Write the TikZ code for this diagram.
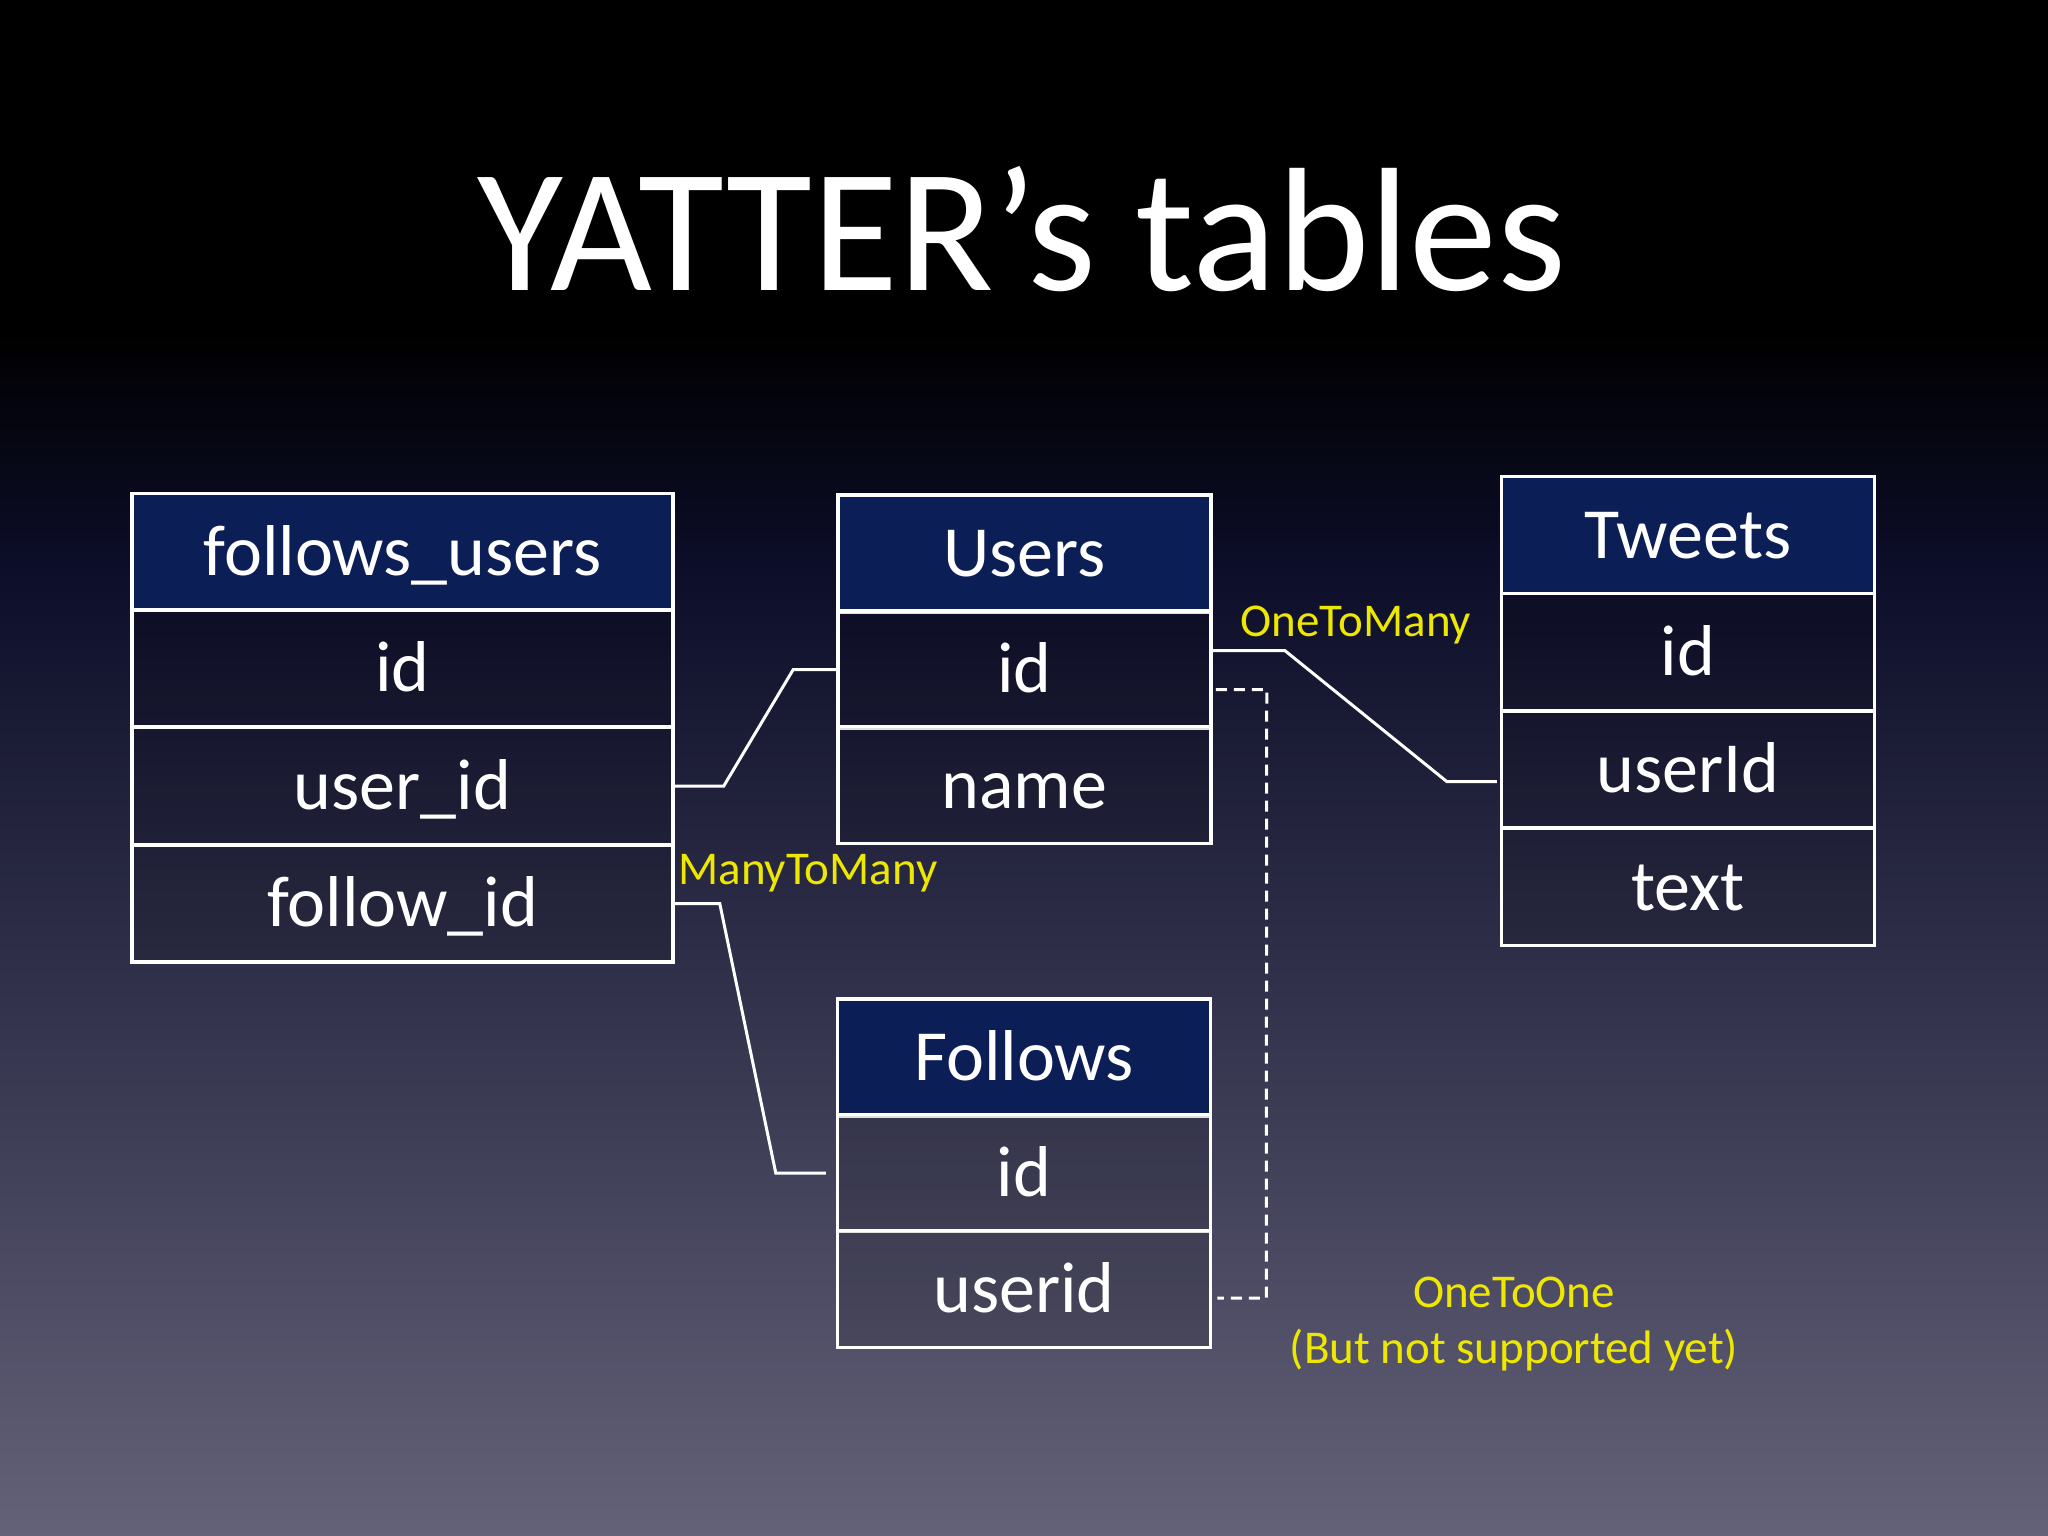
\documentclass[tikz,border=0pt]{standalone}
\usepackage{fontspec}
\setmainfont{Carlito}
\usetikzlibrary{calc}
\definecolor{bgone}{RGB}{12,13,40}
\definecolor{bgmid}{RGB}{50,50,76}
\definecolor{bgbot}{RGB}{100,98,120}
\definecolor{hdrblue}{RGB}{12,30,86}
\definecolor{labelyellow}{RGB}{238,232,0}
\begin{document}
\begin{tikzpicture}[x=1pt,y=-1pt,
  cellbox/.style={draw=white, line width=3.5pt, minimum height=117pt, inner sep=0pt,
    text=white, font=\fontsize{72}{80}\selectfont, text height=46pt, text depth=0pt},
  hdrbox/.style={cellbox, fill=hdrblue},
  rowbox/.style={cellbox, fill=black, fill opacity=0.12, text opacity=1},
  widebox/.style={minimum width=541pt},
  narrowbox/.style={minimum width=373pt},
  conn/.style={draw=white, line width=3pt},
  dconn/.style={conn, dash pattern=on 11pt off 7pt},
  lbl/.style={text=labelyellow, font=\fontsize{47}{56}\selectfont, anchor=base, inner sep=0pt},
  titlestyle/.style={text=white, font=\fontsize{176}{200}\selectfont, anchor=base, inner sep=0pt}
]
\useasboundingbox (0,0) rectangle (2048,1536);
% background
\fill[black] (0,0) rectangle (2048,331);
\shade[top color=black, bottom color=bgone] (0,330) rectangle (2048,561);
\shade[top color=bgone, bottom color=bgmid] (0,560) rectangle (2048,1001);
\shade[top color=bgmid, bottom color=bgbot] (0,1000) rectangle (2048,1536);

% title
\node[titlestyle] (title) at (1022,290) {YATTER’s tables};

% follows_users
\node[hdrbox, widebox] (fu_h) at (402.5,552) {follows\_users};
\node[rowbox, widebox] (fu_id) at (402.5,668.5) {id};
\node[rowbox, widebox] (fu_uid) at (402.5,786) {user\_id};
\node[rowbox, widebox] (fu_fid) at (402.5,903.5) {follow\_id};

% Users
\node[hdrbox, narrowbox] (us_h) at (1024.5,553.5) {Users};
\node[rowbox, narrowbox] (us_id) at (1024.5,669.5) {id};
\node[rowbox, narrowbox] (us_name) at (1024.5,785) {name};

% Tweets
\node[hdrbox, narrowbox] (tw_h) at (1688,535) {Tweets};
\node[rowbox, narrowbox] (tw_id) at (1688,652) {id};
\node[rowbox, narrowbox] (tw_uid) at (1688,769.5) {userId};
\node[rowbox, narrowbox] (tw_text) at (1688,887) {text};

% Follows
\node[hdrbox, narrowbox] (fo_h) at (1024,1057.5) {Follows};
\node[rowbox, narrowbox] (fo_id) at (1024,1173) {id};
\node[rowbox, narrowbox] (fo_uid) at (1024,1289) {userid};

% connectors
\draw[conn] (fu_uid.east) -- ++(49,0) -- ($(us_id.west)+(-43,0)$) -- (us_id.west);
\draw[conn] (fu_fid.east) -- ++(45,0) -- ($(fo_id.west)+(-60,0)$) -- ($(fo_id.west)+(-10,0)$);
\draw[conn] ($(us_id.east)+(0,-19)$) -- ++(72,0) -- ($(tw_uid.west)+(-53,12)$) -- ($(tw_uid.west)+(-3,12)$);
\coordinate (dtop) at ($(us_id.east)+(54,20)$);
\coordinate (dbot) at ($(fo_uid.east)+(54,9)$);
\draw[dconn] ($(us_id.east)+(3,20)$) -- (dtop) -- (dbot) -- ($(fo_uid.east)+(5,9)$);

% labels
\node[lbl] (l_otm) at (1356,636) {OneToMany};
\node[lbl] (l_mtm) at (808,884) {ManyToMany};
\node[lbl] (l_oto) at (1514,1307) {OneToOne};
\node[lbl] (l_ns) at (1514,1363) {(But not supported yet)};
\end{tikzpicture}
\end{document}
